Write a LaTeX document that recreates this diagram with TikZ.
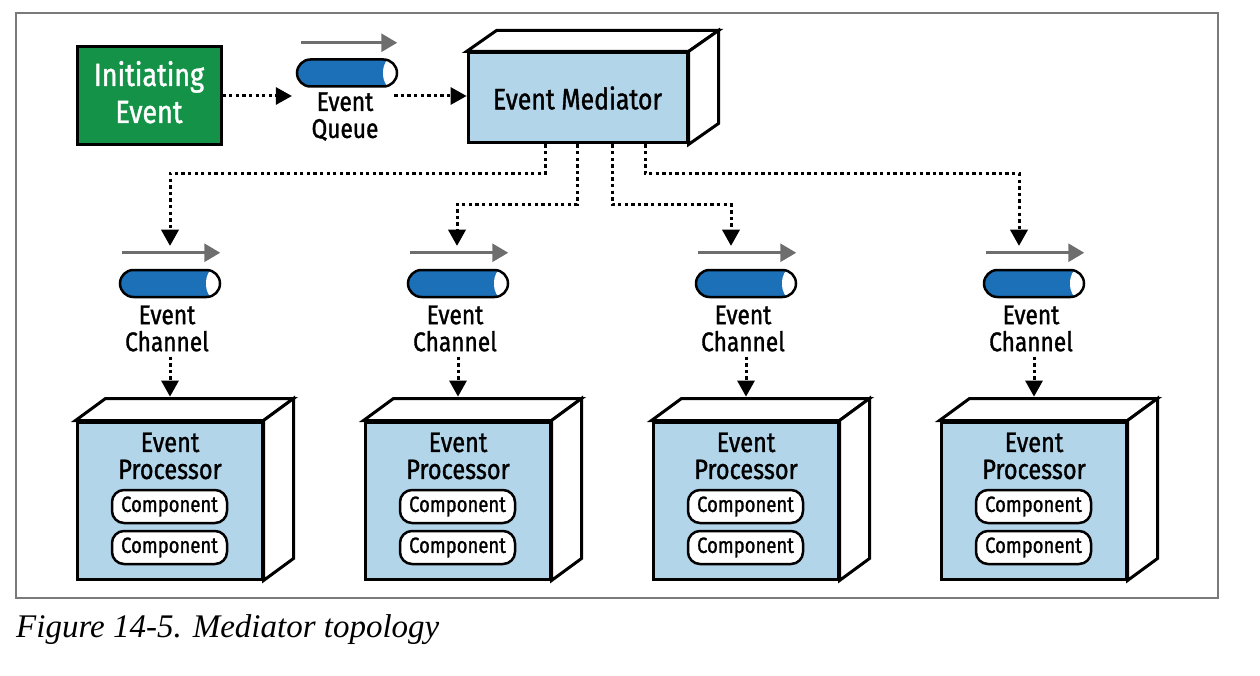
\documentclass[tikz,border=0pt]{standalone}
\usepackage{fontspec}
\setmainfont{Fira Sans}[FakeStretch=0.84,FakeBold=1.2]
\newfontfamily\capfont{Liberation Serif}
\usetikzlibrary{arrows.meta,calc}
\definecolor{evgreen}{HTML}{149248}
\definecolor{evblue}{HTML}{B3D5EA}
\definecolor{cylblue}{HTML}{1C70B8}
\definecolor{arrgray}{HTML}{6E6E6E}
\definecolor{framegray}{HTML}{7A7A7A}
\newcommand\boxfaces[3]{%
  \filldraw[face] (#1.north west) -- ++(#2,-#3) -- ($(#1.north east)+(#2,-#3)$) -- (#1.north east) -- cycle;
  \filldraw[face] (#1.north east) -- ($(#1.north east)+(#2,-#3)$) -- ($(#1.south east)+(#2,-#3)$) -- (#1.south east) -- cycle;}
\begin{document}
\begin{tikzpicture}[x=1pt,y=-1pt,
  box/.style={draw=black,line width=3pt,fill=evblue,inner sep=0pt},
  face/.style={draw=black,line width=3pt,fill=white},
  cyl/.style={draw=black,line width=2.5pt,fill=cylblue,rounded corners=13.5pt,minimum width=100pt,minimum height=27pt,inner sep=0pt,
    path picture={\fill[white] ([xshift=-7pt]path picture bounding box.east) ellipse [x radius=7pt,y radius=14pt];}},
  flow/.style={arrgray,line width=3pt,-{Triangle[length=16pt,width=18pt]}},
  conn/.style={black,line width=3pt,dash pattern=on 3.3pt off 3.3pt,-{Triangle[length=16pt,width=18pt,line width=0pt]}},
  lbl/.style={font=\fontsize{27}{27}\selectfont,align=center,inner sep=0pt},
  comp/.style={draw=black,line width=2.5pt,fill=white,rounded corners=12pt,minimum width=115pt,minimum height=33pt,inner sep=0pt,font=\fontsize{22}{24}\selectfont},
]
\useasboundingbox (0,0) rectangle (1260,676);
\draw[framegray,line width=2pt] (16,13.5) rectangle (1218,598);

\node[box,fill=evgreen,minimum width=144pt,minimum height=98pt,text=white,font=\fontsize{32}{37}\selectfont,align=center,text depth=8pt] (init) at (149,96) {Initiating\\Event};

\node[cyl] (q) at (347,73) {};
\draw[flow] ([xshift=5pt,yshift=15.5pt]q.north west) -- ([xshift=-1pt,yshift=15.5pt]q.north east);
\node[lbl] (qt) at (345,116.5) {Event\\Queue};

\node[box,minimum width=219pt,minimum height=90pt,font=\fontsize{29.5}{34}\selectfont] (med) at (577.5,98) {Event Mediator};
\boxfaces{med}{30}{21}

\draw[conn] (init.east) -- ($(init.east -| q.west)+(-4,0)$);
\draw[conn] ($(init.east -| q.east)+(-4,0)$) -- (init.east -| med.west);

\foreach \i/\x in {1/170,2/458,3/746,4/1034} {
  \node[cyl] (ch\i) at (\x,283.5) {};
  \draw[flow] ([xshift=3pt,yshift=16pt]ch\i.north west) -- ([xshift=-1pt,yshift=16pt]ch\i.north east);
  \node[lbl] (ct\i) at (\x-3,328.5) {Event\\Channel};
  \node[box,minimum width=185pt,minimum height=157pt] (p\i) at (\x-0.5,500.5) {};
  \boxfaces{p\i}{30}{22}
  \node[lbl,font=\fontsize{28}{27}\selectfont] (pt\i) at (\x,456) {Event\\Processor};
  \node[comp] (ca\i) at (\x-0.5,506.5) {Component};
  \node[comp] (cb\i) at (\x-0.5,547.5) {Component};
  \draw[conn] ($(ct\i.south -| ch\i.south)+(0,5)$) -- ($(p\i.north -| ch\i.south)+(0,-24)$);
}

\draw[conn] ($(med.south)+(-32.5,0)$) -- ++(0,29) -| ($(ch1.north)+(0,-23)$);
\draw[conn] ($(med.south)+(-0.5,0)$) -- ++(0,60) -| ($(ch2.north)+(-1,-23)$);
\draw[conn] ($(med.south)+(34.5,0)$) -- ++(0,60) -| ($(ch3.north)+(-15,-23)$);
\draw[conn] ($(med.south)+(67.5,0)$) -- ++(0,29) -| ($(ch4.north)+(-15,-23)$);

\node[anchor=base west,inner sep=0pt,font={\capfont\itshape\fontsize{33}{36}\selectfont}] (cap) at (16,637) {Figure 14-5. Mediator topology};
\end{tikzpicture}
\end{document}
